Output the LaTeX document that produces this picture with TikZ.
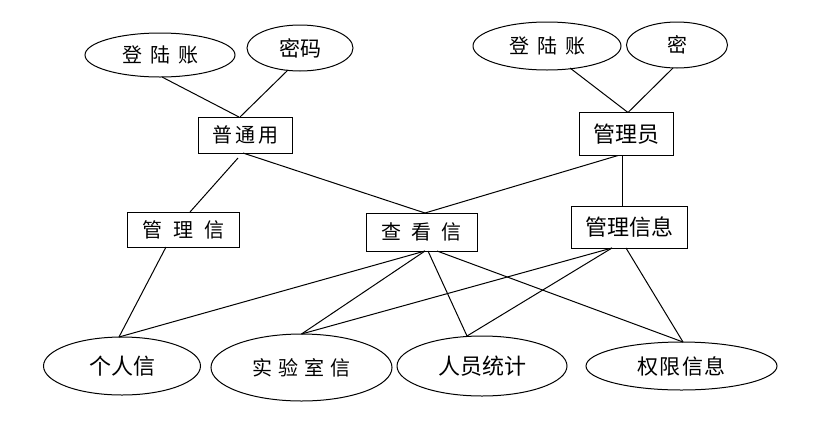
\documentclass[tikz,border=0pt]{standalone}
\usepackage{fontspec}
\newfontfamily\cjk{Noto Sans CJK SC}
\usetikzlibrary{shapes.geometric}
\tikzset{
  every node/.style={inner sep=0pt, outer sep=0pt},
  ent/.style={draw, line width=1pt, rectangle},
  att/.style={draw, line width=1pt, ellipse},
  ta/.style={font=\cjk\fontsize{20}{20}\selectfont},
  tb/.style={font=\cjk\fontsize{22}{22}\selectfont},
  link/.style={line width=1pt},
}
\begin{document}
\begin{tikzpicture}[x=1pt,y=-1pt]
\useasboundingbox (0,0) rectangle (835,421);
% top-left group
\node[att, ta, minimum width=150pt, minimum height=44pt] (e1) at (160,55) {登\hspace{8pt}陆\hspace{8pt}账};
\node[att, tb, font=\cjk\fontsize{21}{21}\selectfont, minimum width=106pt, minimum height=46pt] (e2) at (300,48) {密码};
\node[ent, ta, minimum width=94pt, minimum height=36pt] (b1) at (245,135) {普\hspace{3pt}通\hspace{3pt}用};
% top-right group
\node[att, ta, minimum width=148pt, minimum height=48pt] (e3) at (547,46) {登\hspace{8pt}陆\hspace{8pt}账};
\node[att, ta, minimum width=101pt, minimum height=46pt] (e4) at (677,45) {密};
\node[ent, tb, minimum width=94pt, minimum height=43pt] (b2) at (626,134) {管理员};
% middle row
\node[ent, ta, minimum width=112pt, minimum height=35pt] (b3) at (183,229.5) {管\hspace{11pt}理\hspace{11pt}信};
\node[ent, ta, minimum width=111pt, minimum height=38pt] (b4) at (421.5,232) {查\hspace{10pt}看\hspace{10pt}信};
\node[ent, tb, minimum width=116pt, minimum height=42pt] (b5) at (629,227) {管理信息};
% bottom row
\node[att, tb, minimum width=157pt, minimum height=58pt] (e5) at (122,366) {个人信};
\node[att, ta, minimum width=181pt, minimum height=67pt] (e6) at (301.5,367.5) {实\hspace{6pt}验\hspace{6pt}室\hspace{6pt}信};
\node[att, tb, minimum width=170pt, minimum height=60pt] (e7) at (482,366) {人员统计};
\node[att, ta, font=\cjk\fontsize{21}{21}\selectfont, minimum width=191pt, minimum height=48pt] (e8) at (681.5,366) {权\hspace{1.5pt}限\hspace{1.5pt}信\hspace{1.5pt}息};
% connectors
\draw[link] ([xshift=2pt]e1.south) -- ([xshift=-6pt]b1.north);
\draw[link] ([xshift=-12pt,yshift=1pt]e2.south) -- ([xshift=-5pt]b1.north);
\draw[link] ([xshift=23pt,yshift=2pt]e3.south) -- ([xshift=2pt]b2.north);
\draw[link] ([xshift=-4pt]e4.south) -- ([xshift=2pt]b2.north);
\draw[link] ([xshift=-7pt,yshift=-5pt]b1.south) -- ([xshift=7pt]b3.north);
\draw[link] ([xshift=-2pt]b1.south) -- ([xshift=3.5pt]b4.north);
\draw[link] ([xshift=-8pt]b2.south) -- ([xshift=3.5pt]b4.north);
\draw[link] ([xshift=-4pt]b2.south) -- ([xshift=-7pt]b5.north);
\draw[link] ([xshift=-17pt]b3.south) -- ([xshift=-3pt]e5.north);
\draw[link] ([xshift=3.5pt]b4.south) -- ([xshift=-3pt]e5.north);
\draw[link] ([xshift=3.5pt]b4.south) -- (e6.north);
\draw[link] ([xshift=6.5pt]b4.south) -- ([xshift=-15pt]e7.north);
\draw[link] ([xshift=15.5pt]b4.south) -- ([xshift=1.5pt]e8.north);
\draw[link] ([xshift=-17pt]b5.south) -- (e6.north);
\draw[link] ([xshift=-17pt]b5.south) -- ([xshift=-15pt]e7.north);
\draw[link] ([xshift=-3pt]b5.south) -- ([xshift=1.5pt]e8.north);
\end{tikzpicture}
\end{document}
